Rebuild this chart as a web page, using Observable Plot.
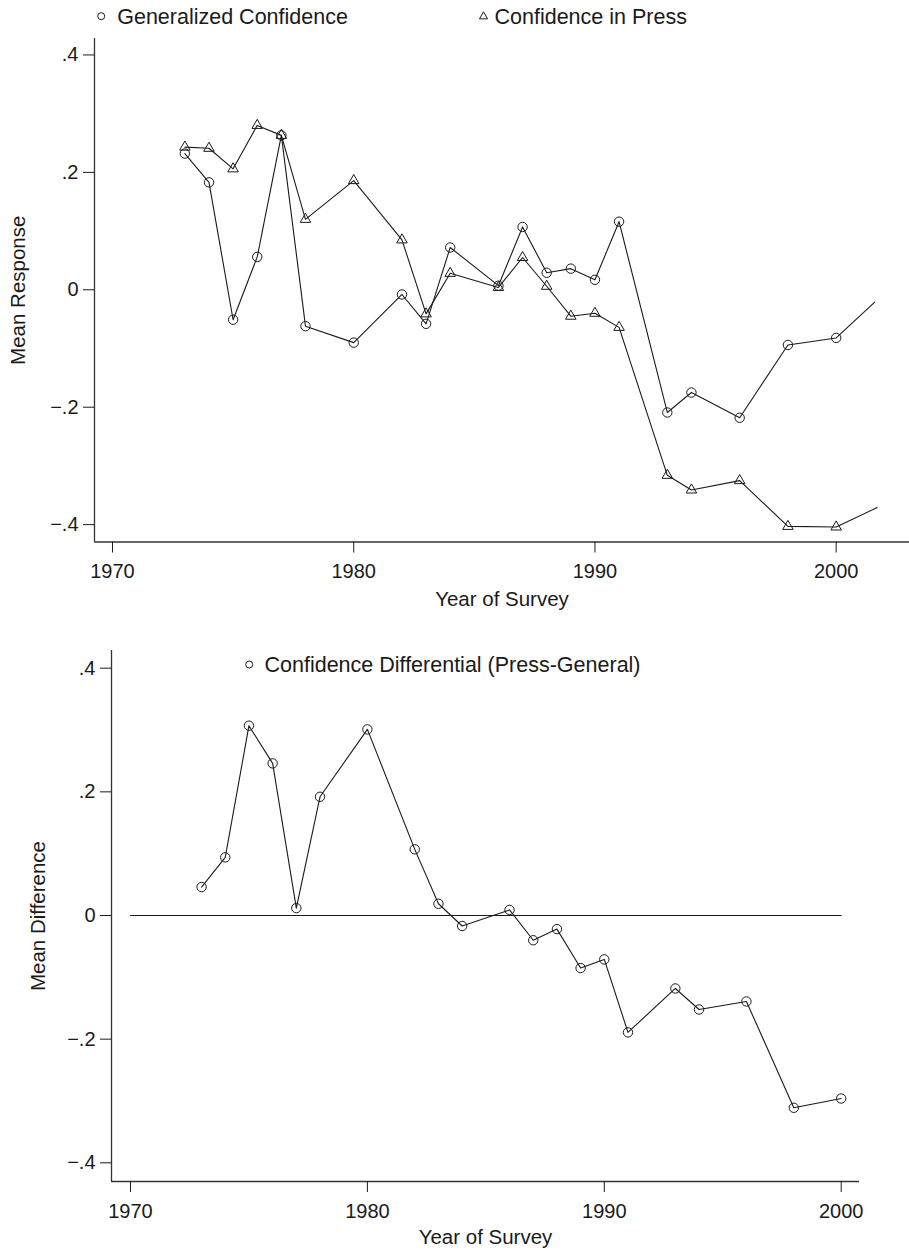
<!DOCTYPE html>
<html><head><meta charset="utf-8">
<script src="https://cdn.jsdelivr.net/npm/d3@7"></script>
<script src="https://cdn.jsdelivr.net/npm/@observablehq/plot@0.6"></script>
<style>
body{margin:0;background:#fff;}
#wrap{width:909px;}
#wrap svg{display:block;}
</style></head><body><div id="wrap"></div>
<script>
// ---- data ----
const years = [1973,1974,1975,1976,1977,1978,1980,1982,1983,1984,1986,1987,1988,1989,1990,1991,1993,1994,1996,1998,2000];
const generalized = [0.232,0.183,-0.051,0.056,0.263,-0.062,-0.090,-0.008,-0.058,0.072,0.007,0.107,0.029,0.036,0.017,0.116,-0.209,-0.175,-0.218,-0.094,-0.082];
const press = [0.243,0.241,0.206,0.280,0.263,0.120,0.186,0.085,-0.041,0.028,0.004,0.055,0.006,-0.045,-0.040,-0.064,-0.316,-0.341,-0.325,-0.403,-0.404];
const tailYears = [2001.6, 2001.7];
const tailValues = [-0.021, -0.371];
const differential = [0.046,0.094,0.307,0.246,0.012,0.192,0.301,0.107,0.019,-0.017,0.009,-0.040,-0.022,-0.085,-0.071,-0.189,-0.118,-0.152,-0.139,-0.311,-0.296];
const zeroLineYears = [1970, 2000];
const xTicks = [1970, 1980, 1990, 2000];
const yTicks = [-0.4, -0.2, 0, 0.2, 0.4];
const topLegend = ["Generalized Confidence", "Confidence in Press"];
const bottomLegend = ["Confidence Differential (Press-General)"];
const xTitle = "Year of Survey";
const topYTitle = "Mean Response";
const bottomYTitle = "Mean Difference";

// ---- helpers ----
const font = "'Liberation Sans', Arial, Helvetica, sans-serif";
const ink = "#1a1a1a";
const legendSize = 21.5;
const titleSize = 20.5;
const fmtY = d => d === 0 ? "0" : (d < 0 ? "\u2212" : "") + String(Math.abs(d)).replace(/^0/, "");
const genData = years.map((y, i) => ({year: y, value: generalized[i]}));
const pressData = years.map((y, i) => ({year: y, value: press[i]}));
const genLine = [...genData, {year: tailYears[0], value: tailValues[0]}];
const pressLine = [...pressData, {year: tailYears[1], value: tailValues[1]}];
const diffData = years.map((y, i) => ({year: y, value: differential[i]}));
const zeroLine = zeroLineYears.map(y => ({year: y, value: 0}));

// ---- top chart ----
const topX = [1969.254, 2003.04];
const topY = [-0.4296, 0.428];
const topChart = Plot.plot({
  width: 909, height: 620,
  marginTop: 38, marginBottom: 78.5, marginLeft: 94, marginRight: 0,
  style: {fontFamily: font, fontSize: "20px", color: ink, background: "white"},
  x: {domain: topX},
  y: {domain: topY},
  marks: [
    Plot.ruleX([topX[0]], {stroke: "#333", strokeWidth: 1.3}),
    Plot.ruleY([topY[0]], {stroke: "#333", strokeWidth: 1.3}),
    Plot.axisX({ticks: xTicks, tickSize: 11, tickPadding: 11, tickFormat: d => String(d), label: null, fontSize: 20}),
    Plot.axisY({ticks: yTicks, tickSize: 11, tickPadding: 5, tickFormat: fmtY, label: null, fontSize: 20}),
    Plot.text([xTitle], {frameAnchor: "bottom", lineAnchor: "middle", textAnchor: "middle", dy: 57, text: d => d, fontSize: titleSize}),
    Plot.text([topYTitle], {frameAnchor: "left", lineAnchor: "middle", textAnchor: "middle", rotate: -90, dx: -76, text: d => d, fontSize: titleSize}),
    Plot.line(genLine, {x: "year", y: "value", stroke: ink, strokeWidth: 1.1}),
    Plot.line(pressLine, {x: "year", y: "value", stroke: ink, strokeWidth: 1.1}),
    Plot.dot(genData, {x: "year", y: "value", r: 4.7, stroke: ink, fill: "none", strokeWidth: 1}),
    Plot.dot(pressData, {x: "year", y: "value", r: 3.9, symbol: "triangle", stroke: ink, fill: "none", strokeWidth: 1}),
    // legend
    Plot.dot([topLegend[0]], {frameAnchor: "top-left", dx: 6.7, dy: -22.3, r: 3.5, stroke: ink, fill: "none", strokeWidth: 1}),
    Plot.text([topLegend[0]], {frameAnchor: "top-left", lineAnchor: "middle", textAnchor: "start", dx: 22.7, dy: -21.5, text: d => d, fontSize: legendSize}),
    Plot.dot([topLegend[1]], {frameAnchor: "top-left", dx: 389, dy: -22, r: 3, symbol: "triangle", stroke: ink, fill: "none", strokeWidth: 1}),
    Plot.text([topLegend[1]], {frameAnchor: "top-left", lineAnchor: "middle", textAnchor: "start", dx: 400, dy: -21.5, text: d => d, fontSize: legendSize})
  ]
});

// ---- bottom chart ----
const botX = [1969.198, 2000.773];
const botY = [-0.4302, 0.4286];
const bottomChart = Plot.plot({
  width: 909, height: 630,
  marginTop: 30, marginBottom: 69, marginLeft: 111, marginRight: 50,
  style: {fontFamily: font, fontSize: "20px", color: ink, background: "white"},
  x: {domain: botX},
  y: {domain: botY},
  marks: [
    Plot.ruleX([botX[0]], {stroke: "#333", strokeWidth: 1.3}),
    Plot.ruleY([botY[0]], {stroke: "#333", strokeWidth: 1.3}),
    Plot.axisX({ticks: xTicks, tickSize: 11, tickPadding: 11, tickFormat: d => String(d), label: null, fontSize: 20}),
    Plot.axisY({ticks: yTicks, tickSize: 11, tickPadding: 5, tickFormat: fmtY, label: null, fontSize: 20}),
    Plot.text([xTitle], {frameAnchor: "bottom", lineAnchor: "middle", textAnchor: "middle", dy: 56, text: d => d, fontSize: titleSize}),
    Plot.text([bottomYTitle], {frameAnchor: "left", lineAnchor: "middle", textAnchor: "middle", rotate: -90, dx: -73, text: d => d, fontSize: titleSize}),
    Plot.line(zeroLine, {x: "year", y: "value", stroke: ink, strokeWidth: 1.1}),
    Plot.line(diffData, {x: "year", y: "value", stroke: ink, strokeWidth: 1.1}),
    Plot.dot(diffData, {x: "year", y: "value", r: 4.7, stroke: ink, fill: "none", strokeWidth: 1}),
    Plot.dot(bottomLegend, {frameAnchor: "top-left", dx: 137.7, dy: 14, r: 3.5, stroke: ink, fill: "none", strokeWidth: 1}),
    Plot.text(bottomLegend, {frameAnchor: "top-left", lineAnchor: "middle", textAnchor: "start", dx: 153, dy: 14.5, text: d => d, fontSize: legendSize})
  ]
});

const wrap = document.getElementById("wrap");
wrap.appendChild(topChart);
wrap.appendChild(bottomChart);
</script>
</body></html>
